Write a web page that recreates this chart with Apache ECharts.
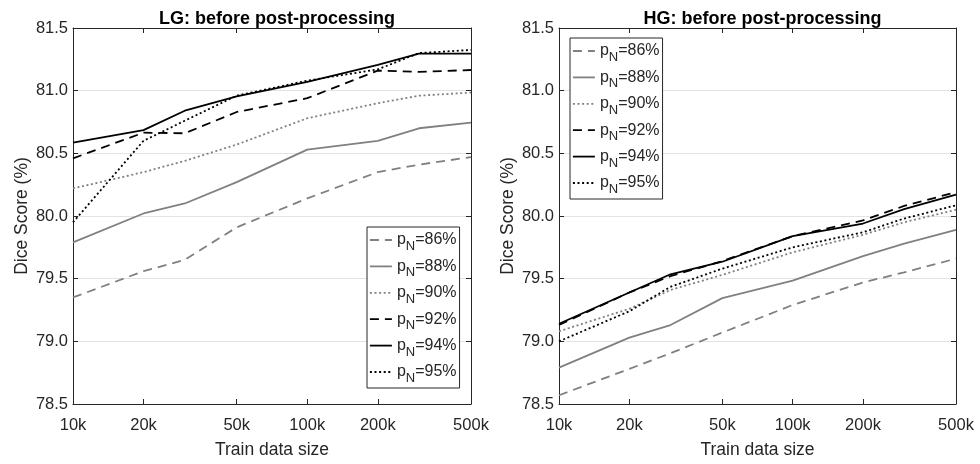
<!DOCTYPE html>
<html>
<head>
<meta charset="utf-8">
<script src="https://cdn.jsdelivr.net/npm/echarts@6/dist/echarts.min.js"></script>
<style>
html,body{margin:0;padding:0;background:#fff;}
#c{width:980px;height:464px;}
</style>
</head>
<body>
<div id="c"></div>
<script>
// ---- data ----
const sizes = [10000, 20000, 30000, 50000, 100000, 200000, 300000, 500000];
const xTicks = [10000, 20000, 50000, 100000, 200000, 500000];
const yTicks = [78.5, 79.0, 79.5, 80.0, 80.5, 81.0, 81.5];
const pLabels = ['86%', '88%', '90%', '92%', '94%', '95%'];
const titles = ['LG: before post-processing', 'HG: before post-processing'];

const lg86 = [79.35, 79.56, 79.65, 79.91, 80.14, 80.35, 80.41, 80.47];
const lg88 = [79.79, 80.02, 80.10, 80.27, 80.53, 80.60, 80.70, 80.745];
const lg90 = [80.22, 80.35, 80.44, 80.57, 80.78, 80.90, 80.96, 80.985];
const lg92 = [80.46, 80.665, 80.66, 80.83, 80.94, 81.16, 81.15, 81.165];
const lg94 = [80.585, 80.685, 80.84, 80.955, 81.07, 81.205, 81.295, 81.295];
const lg95 = [79.95, 80.60, 80.76, 80.96, 81.08, 81.17, 81.30, 81.325];

const hg86 = [78.57, 78.78, 78.905, 79.07, 79.29, 79.47, 79.55, 79.66];
const hg88 = [78.79, 79.03, 79.13, 79.345, 79.485, 79.68, 79.78, 79.89];
const hg90 = [79.08, 79.26, 79.41, 79.53, 79.71, 79.85, 79.95, 80.05];
const hg92 = [79.13, 79.39, 79.52, 79.64, 79.84, 79.965, 80.08, 80.19];
const hg94 = [79.14, 79.39, 79.535, 79.635, 79.84, 79.94, 80.055, 80.17];
const hg95 = [79.00, 79.24, 79.435, 79.58, 79.75, 79.87, 79.98, 80.085];

const lgSeries = [lg86, lg88, lg90, lg92, lg94, lg95];
const hgSeries = [hg86, hg88, hg90, hg92, hg94, hg95];

// ---- styles ----
const GRAY = '#808080', BLACK = '#000000', TXT = '#262626';
const DASH = [9, 6], DOT = [2, 2.6];
const lineStyles = [
  {color: GRAY, type: DASH},
  {color: GRAY, type: 'solid'},
  {color: GRAY, type: DOT},
  {color: BLACK, type: DASH},
  {color: BLACK, type: 'solid'},
  {color: BLACK, type: DOT}
];
const FONT = 'Liberation Sans, Arial, Helvetica, sans-serif';

const grids = [
  {left: 73, top: 28, width: 398, height: 377},
  {left: 559, top: 28, width: 397, height: 377}
];

const xAxes = [], yAxes = [], series = [], titleArr = [];
grids.forEach((g, gi) => {
  xAxes.push({
    type: 'log', logBase: 10, gridIndex: gi, min: 10000, max: 500000, position: 'bottom',
    name: 'Train data size', nameLocation: 'middle', nameGap: 37,
    nameTextStyle: {fontFamily: FONT, fontSize: 17.5, color: TXT},
    axisLine: {show: true, lineStyle: {color: TXT, width: 1}},
    axisTick: {show: true, inside: true, length: 5, customValues: xTicks, lineStyle: {color: TXT}},
    minorTick: {show: false},
    axisLabel: {show: true, customValues: xTicks, margin: 13, fontFamily: FONT, fontSize: 16.5, color: TXT,
      formatter: v => (v / 1000) + 'k'},
    splitLine: {show: false}
  });
  xAxes.push({
    type: 'log', logBase: 10, gridIndex: gi, min: 10000, max: 500000, position: 'top',
    axisLine: {show: true, lineStyle: {color: TXT, width: 1}},
    axisTick: {show: true, inside: true, length: 5, customValues: xTicks, lineStyle: {color: TXT}},
    axisLabel: {show: false},
    splitLine: {show: false}
  });
  yAxes.push({
    type: 'value', gridIndex: gi, min: 78.5, max: 81.5, interval: 0.5, position: 'left',
    name: 'Dice Score (%)', nameLocation: 'middle', nameGap: 42,
    nameTextStyle: {fontFamily: FONT, fontSize: 17.5, color: TXT},
    axisLine: {show: true, lineStyle: {color: TXT, width: 1}},
    axisTick: {show: true, inside: true, length: 5, lineStyle: {color: TXT}},
    axisLabel: {fontFamily: FONT, fontSize: 16.5, color: TXT, margin: 5,
      formatter: v => v.toFixed(1)},
    splitLine: {show: true, lineStyle: {color: '#e3e3e3', width: 1}}
  });
  yAxes.push({
    type: 'value', gridIndex: gi, min: 78.5, max: 81.5, interval: 0.5, position: 'right',
    axisLine: {show: true, lineStyle: {color: TXT, width: 1}},
    axisTick: {show: true, inside: true, length: 5, lineStyle: {color: TXT}},
    axisLabel: {show: false},
    splitLine: {show: false}
  });
  titleArr.push({
    text: titles[gi], left: g.left + g.width / 2, top: 5, textAlign: 'center',
    textStyle: {fontFamily: FONT, fontSize: 18, fontWeight: 'bold', color: '#000'}
  });
  const src = gi === 0 ? lgSeries : hgSeries;
  src.forEach((vals, si) => {
    series.push({
      type: 'line', name: pLabels[si], xAxisIndex: gi * 2, yAxisIndex: gi * 2,
      data: sizes.map((s, k) => [s, vals[k]]),
      symbol: 'none', showSymbol: false, animation: false, silent: true,
      lineStyle: Object.assign({width: 1.8, cap: 'butt'}, lineStyles[si]),
      itemStyle: {color: lineStyles[si].color}
    });
  });
});

const legendData = pLabels.map((n, i) => ({
  name: n,
  itemStyle: {opacity: 0, borderWidth: 0},
  lineStyle: {color: lineStyles[i].color, type: lineStyles[i].type, width: 1.8, opacity: 1}
}));

const legendCommon = {
  orient: 'vertical', itemWidth: 22, itemHeight: 12, itemGap: 4.4,
  padding: [4, 3, 3, 2],
  borderColor: TXT, borderWidth: 1, backgroundColor: '#fff',
  data: legendData, selectedMode: false,
  formatter: n => '{p|p}{s|N}{p|=' + n + '}',
  textStyle: {
    fontFamily: FONT, color: TXT, fontSize: 16,
    rich: {
      p: {fontFamily: FONT, fontSize: 16, color: TXT, lineHeight: 18, verticalAlign: 'middle'},
      s: {fontFamily: FONT, fontSize: 13, color: TXT, lineHeight: 8, padding: [9, 0, 0, 0], verticalAlign: 'top'}
    }
  }
};

const option = {
  animation: false,
  title: titleArr,
  grid: grids,
  xAxis: xAxes,
  yAxis: yAxes,
  legend: [
    Object.assign({left: 367, top: 227}, legendCommon),
    Object.assign({left: 570, top: 38}, legendCommon)
  ],
  series: series
};

const chart = echarts.init(document.getElementById('c'), null, {renderer: 'canvas'});
chart.setOption(option);
</script>
</body>
</html>
